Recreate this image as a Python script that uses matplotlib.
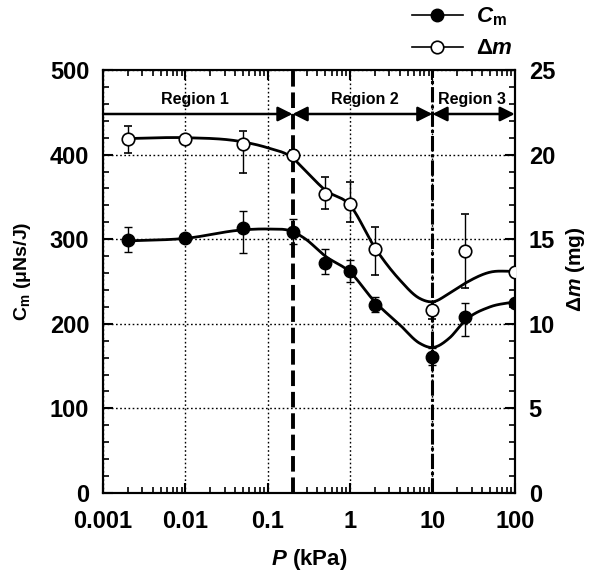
import numpy as np
import matplotlib
matplotlib.use('Agg')
import matplotlib.pyplot as plt
from matplotlib.ticker import MultipleLocator, LogLocator, NullFormatter, FixedLocator, FixedFormatter

plt.rcParams['font.family'] = 'Liberation Sans'
plt.rcParams['font.weight'] = 'bold'
plt.rcParams['mathtext.fontset'] = 'custom'
plt.rcParams['mathtext.rm'] = 'Liberation Sans:bold'
plt.rcParams['mathtext.it'] = 'Liberation Sans:italic:bold'
plt.rcParams['mathtext.bf'] = 'Liberation Sans:bold'

# measured points
pressure = [0.002, 0.01, 0.05, 0.2, 0.5, 1, 2, 10, 25, 100]
cm = [299, 301, 313, 309, 272, 263, 222, 161, 208, 225]
cm_err_lo = [14, 4, 29, 15, 13, 14, 8, 10, 22, 3]
cm_err_hi = [15, 4, 20, 15, 16, 12, 10, 10, 17, 3]
dm = [20.9, 20.95, 20.6, 20.0, 17.7, 17.1, 14.4, 10.8, 14.3, 13.05]
dm_err_lo = [0.8, 0.0, 1.7, 0.3, 0.9, 1.1, 1.5, 0.5, 2.2, 0.0]
dm_err_hi = [0.8, 0.0, 0.8, 0.3, 1.0, 1.3, 1.3, 0.5, 2.2, 0.0]

# fitted curves
fit_p = [0.002, 0.01, 0.05, 0.1, 0.2, 0.28, 0.5, 1, 2, 4, 7, 10, 16, 25, 50, 100]
cm_fit = [298, 301, 311, 312, 309, 301, 280, 261, 226, 199, 177, 172, 183, 204, 220, 226]
dm_fit = [20.95, 21.0, 20.75, 20.4, 19.8, 19.1, 17.9, 17.0, 14.5, 12.6, 11.5, 11.3, 11.8, 12.4, 13.05, 13.1]

regions = ['Region 1', 'Region 2', 'Region 3']
region_edges = [0.001, 0.2, 10, 100]
region_text_x = [0.013, 1.5, 30]


def smooth(px, py, n=25):
    # cubic hermite through the knots in log-x
    lx = np.log10(px)
    py = np.asarray(py, float)
    m = np.gradient(py, lx)
    xs, ys = [], []
    for i in range(len(lx) - 1):
        h = lx[i + 1] - lx[i]
        t = np.linspace(0, 1, n)
        h00 = 2 * t**3 - 3 * t**2 + 1
        h10 = t**3 - 2 * t**2 + t
        h01 = -2 * t**3 + 3 * t**2
        h11 = t**3 - t**2
        ys.append(h00 * py[i] + h10 * h * m[i] + h01 * py[i + 1] + h11 * h * m[i + 1])
        xs.append(10 ** (lx[i] + t * h))
    return np.concatenate(xs), np.concatenate(ys)


fig = plt.figure(figsize=(5.89, 5.71), dpi=100)
ax = fig.add_axes([0.175, 0.1366, 0.699, 0.7408])
ax2 = ax.twinx()

ax.set_xscale('log')
ax.set_xlim(0.001, 100)
ax.set_ylim(0, 500)
ax2.set_ylim(0, 25)

ax.grid(True, which='major', linestyle=(0, (1.2, 1.8)), color='k', linewidth=1.0)

# region boundaries
ax.axvline(0.2, color='k', linewidth=2.8, linestyle=(0, (4, 1.5)), zorder=3)
ax.axvline(10, color='k', linewidth=2.2, linestyle=(0, (5, 1, 1, 1)), zorder=3)

# region arrows
y_arrow = 448
ax.annotate('', xy=(region_edges[1], y_arrow), xytext=(region_edges[0], y_arrow),
            arrowprops=dict(arrowstyle='-|>', lw=1.8, color='k', mutation_scale=22,
                            shrinkA=0, shrinkB=0))
for a, b in [(region_edges[1], region_edges[2]), (region_edges[2], region_edges[3])]:
    ax.annotate('', xy=(b, y_arrow), xytext=(a, y_arrow),
                arrowprops=dict(arrowstyle='<|-|>', lw=1.8, color='k', mutation_scale=22,
                                shrinkA=0, shrinkB=0))
for name, xt in zip(regions, region_text_x):
    ax.text(xt, 465, name, ha='center', va='center', fontsize=11.5, fontweight='bold')

# curves
fx, fy = smooth(fit_p, cm_fit)
ax.plot(fx, fy, color='k', linewidth=2.0, zorder=4)
fx2, fy2 = smooth(fit_p, dm_fit)
ax2.plot(fx2, fy2, color='k', linewidth=2.0, zorder=4)

# points with error bars
ax.errorbar(pressure, cm, yerr=[cm_err_lo, cm_err_hi], fmt='o', color='k', ms=9,
            mfc='k', mec='k', ecolor='k', elinewidth=1.0, capsize=3, zorder=5)
ax2.errorbar(pressure, dm, yerr=[dm_err_lo, dm_err_hi], fmt='o', color='k', ms=9,
             mfc='white', mec='k', mew=1.2, ecolor='k', elinewidth=1.0, capsize=3, zorder=5)

# ticks
ax.xaxis.set_major_locator(FixedLocator([0.001, 0.01, 0.1, 1, 10, 100]))
ax.xaxis.set_major_formatter(FixedFormatter(['0.001', '0.01', '0.1', '1', '10', '100']))
ax.xaxis.set_minor_locator(LogLocator(base=10, subs=np.arange(2, 10), numticks=10))
ax.xaxis.set_minor_formatter(NullFormatter())
ax.yaxis.set_major_locator(MultipleLocator(100))
ax.yaxis.set_minor_locator(MultipleLocator(20))
ax2.yaxis.set_major_locator(MultipleLocator(5))
ax2.yaxis.set_minor_locator(MultipleLocator(1))

ax.tick_params(axis='both', which='major', direction='in', length=7, width=1.5,
               labelsize=17, top=True, right=False)
ax.tick_params(axis='x', which='major', pad=12)
ax.tick_params(axis='y', which='major', pad=10)
ax.tick_params(axis='both', which='minor', direction='in', length=4, width=1.2,
               top=True, right=False)
ax2.tick_params(axis='y', which='major', direction='in', length=7, width=1.5,
                labelsize=17, pad=10)
ax2.tick_params(axis='y', which='minor', direction='in', length=4, width=1.2)
for a in (ax, ax2):
    for lab in a.get_xticklabels() + a.get_yticklabels():
        lab.set_fontweight('bold')
    for s in a.spines.values():
        s.set_linewidth(1.5)

ax.set_xlabel(r'$\mathit{P}$ (kPa)', fontsize=16, fontweight='bold', labelpad=10)
ax.set_ylabel(r'C$_\mathrm{m}$ ($\mathrm{\mu}$Ns/J)', fontsize=14, fontweight='bold')
ax.yaxis.set_label_coords(-0.17, 0.525)
ax2.set_ylabel(r'$\mathit{\Delta m}$ (mg)', fontsize=15, fontweight='bold')
ax2.yaxis.set_label_coords(1.12, 0.53)

# legend above the plot
h1, = ax.plot([], [], '-o', color='k', ms=9, mfc='k', lw=1.2)
h2, = ax.plot([], [], '-o', color='k', ms=9, mfc='white', mew=1.2, lw=1.2)
fig.legend([h1, h2], [r'$C_\mathrm{m}$', r'$\Delta m$'], loc='upper left',
           bbox_to_anchor=(0.665, 1.025), frameon=False, fontsize=16,
           handlelength=2.3, handletextpad=0.6, labelspacing=0.45)

fig.savefig('out.png', dpi=100)
